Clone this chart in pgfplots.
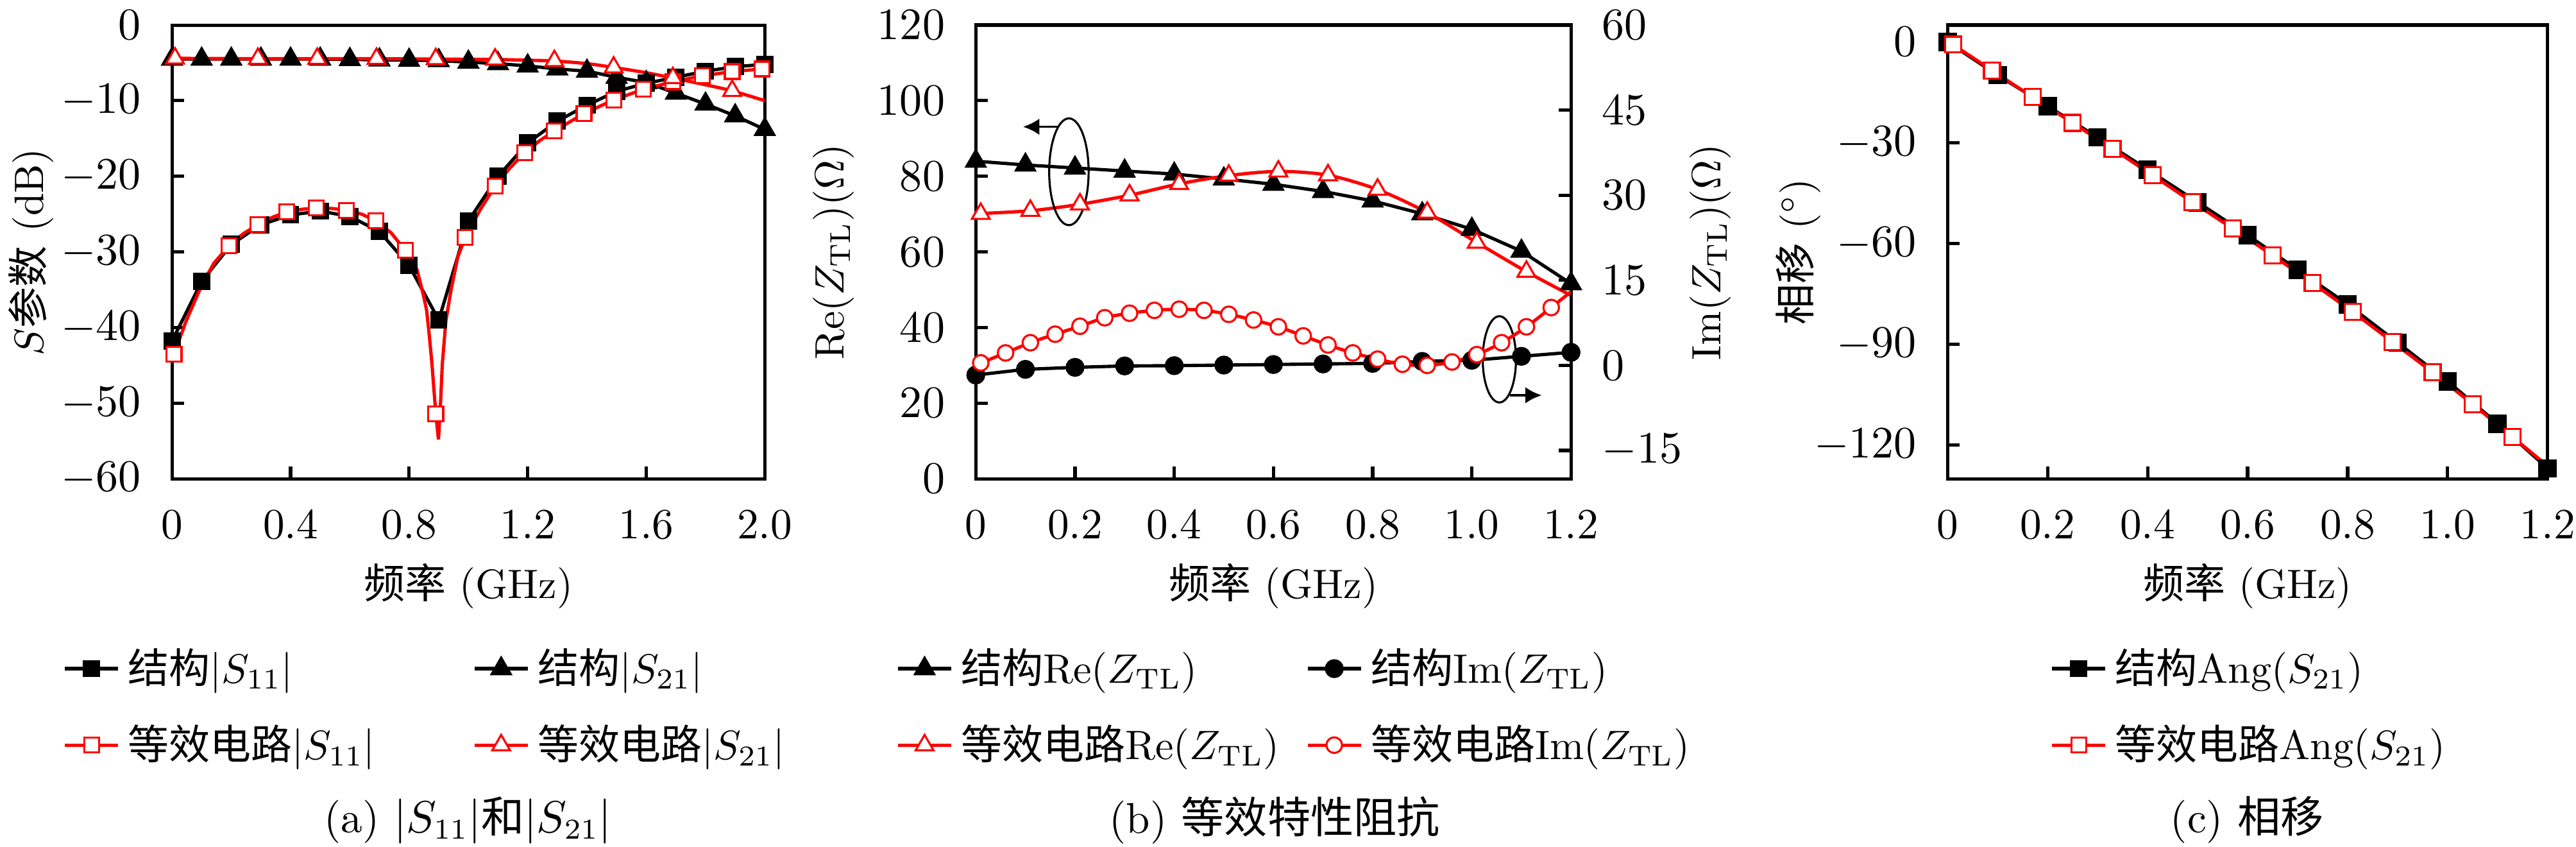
\documentclass[border=0pt]{standalone}
\usepackage{fontspec}
\usepackage{pgfplots}
\pgfplotsset{compat=1.18}
\usetikzlibrary{arrows.meta}
\newfontfamily\cjk{Noto Sans CJK SC}
\newcommand{\zh}[1]{{\cjk #1}}
\begin{document}
\begin{tikzpicture}
\path[use as bounding box] (0,0) rectangle (627.5pt,206.1pt);
\pgfplotsset{
  myaxis/.style={scale only axis, anchor=south west, height=110.5pt,
    tick align=inside, tick pos=left,
    axis line style={line width=0.8pt},
    every tick/.style={black, line width=0.8pt}, major tick length=3pt,
    tick label style={font=\fontsize{10.5}{12}\selectfont},
    xticklabel style={yshift=-4pt}, yticklabel style={xshift=-4pt},
    label style={font=\fontsize{10}{12}\selectfont},
    xlabel style={at={(axis description cs:0.5,-0.236)}, anchor=center},
    legend cell align=left, legend columns=2,
    legend style={draw=none, fill=none, inner xsep=0pt, inner ysep=0pt, row sep=4.7pt,
      nodes={inner sep=2pt, text width=82pt}, anchor=north west,
      font=\fontsize{10}{12}\selectfont},
    legend image code/.code={\draw[mark repeat=2,mark phase=2,##1] plot coordinates {(0pt,0pt) (6.5pt,0pt) (13pt,0pt)};},
  },
  blk/.style={black, line width=0.8pt},
  rd/.style={red, line width=0.8pt},
  bsq/.style={blk, mark=square*, mark size=1.7pt, mark options={solid, fill=black}},
  btr/.style={blk, mark=triangle*, mark size=2.4pt, mark options={solid, fill=black}},
  bci/.style={blk, mark=*, mark size=1.9pt, mark options={solid, fill=black}},
  rsq/.style={rd, mark=square*, mark size=1.8pt, mark options={solid, fill=white, draw=red, line width=0.5pt}},
  rtr/.style={rd, mark=triangle*, mark size=2.5pt, mark options={solid, fill=white, draw=red, line width=0.5pt}},
  rci/.style={rd, mark=*, mark size=1.9pt, mark options={solid, fill=white, draw=red, line width=0.5pt}},
}

% ---------------- (a) ----------------
\begin{axis}[myaxis, at={(41.9pt,89.5pt)}, width=144.4pt,
  xmin=0, xmax=2, ymin=-60, ymax=0,
  xtick={0,0.4,0.8,1.2,1.6,2.0}, xticklabels={0,0.4,0.8,1.2,1.6,2.0},
  ytick={-60,-50,-40,-30,-20,-10,0},
  xlabel={\zh{频率} (GHz)},
  ylabel={$S$\zh{参数} (dB)},
  ylabel style={at={(axis description cs:-0.238,0.5)}, anchor=center},
  legend style={at={(axis description cs:-0.185,-0.3535)}}]
\addlegendimage{bsq}\addlegendentry{\zh{结构}$|S_{11}|$}
\addlegendimage{btr}\addlegendentry{\zh{结构}$|S_{21}|$}
\addlegendimage{rsq}\addlegendentry{\zh{等效电路}$|S_{11}|$}
\addlegendimage{rtr}\addlegendentry{\zh{等效电路}$|S_{21}|$}
\addplot[bsq, forget plot] coordinates {(0,-41.8)(0.1,-33.9)(0.2,-29.0)(0.3,-26.4)(0.4,-25.1)(0.5,-24.6)(0.6,-25.3)(0.7,-27.3)(0.8,-31.8)(0.9,-39.0)(1.0,-25.9)(1.1,-20.0)(1.2,-15.6)(1.3,-12.7)(1.4,-10.6)(1.5,-8.75)(1.6,-7.7)(1.7,-6.9)(1.8,-6.1)(1.9,-5.5)(2.0,-5.2)};
\addplot[btr, forget plot] coordinates {(0,-4.5)(0.1,-4.5)(0.2,-4.5)(0.3,-4.5)(0.4,-4.5)(0.5,-4.5)(0.6,-4.55)(0.7,-4.6)(0.8,-4.65)(0.9,-4.7)(1.0,-4.9)(1.1,-5.1)(1.2,-5.4)(1.3,-5.8)(1.4,-6.1)(1.5,-6.9)(1.6,-7.6)(1.7,-9.0)(1.8,-10.45)(1.9,-12.0)(2.0,-13.8)};
\addplot[rd, no markers, forget plot] coordinates {(0,-44.2)(0.007,-43.5)(0.048,-39.1)(0.098,-34.6)(0.141,-31.5)(0.192,-29.2)(0.24,-27.6)(0.289,-26.4)(0.34,-25.4)(0.387,-24.7)(0.44,-24.35)(0.487,-24.2)(0.54,-24.25)(0.588,-24.5)(0.64,-25.0)(0.688,-25.9)(0.74,-27.5)(0.787,-29.8)(0.81,-31.0)(0.827,-32.4)(0.848,-35.7)(0.859,-37.7)(0.868,-41)(0.877,-44.8)(0.89,-51.4)(0.899,-54.8)(0.906,-50)(0.912,-44.8)(0.924,-39.1)(0.942,-34.9)(0.964,-30.7)(0.989,-28.1)(1.04,-24.4)(1.09,-21.3)(1.14,-18.9)(1.19,-16.9)(1.24,-15.3)(1.29,-14.0)(1.39,-11.7)(1.49,-9.9)(1.59,-8.5)(1.69,-7.5)(1.79,-6.7)(1.89,-6.15)(1.99,-5.8)(2.0,-5.75)};
\addplot[rsq, only marks, forget plot] coordinates {(0.007,-43.5)(0.192,-29.2)(0.289,-26.4)(0.387,-24.7)(0.487,-24.2)(0.588,-24.5)(0.688,-25.9)(0.787,-29.8)(0.89,-51.4)(0.989,-28.1)(1.09,-21.3)(1.19,-16.9)(1.29,-14.0)(1.39,-11.7)(1.49,-9.9)(1.59,-8.5)(1.69,-7.5)(1.79,-6.7)(1.89,-6.15)(1.99,-5.8)};
\addplot[rd, no markers, smooth, forget plot] coordinates {(0,-4.4)(0.29,-4.45)(0.49,-4.45)(0.69,-4.45)(0.89,-4.5)(1.09,-4.55)(1.2,-4.65)(1.29,-4.75)(1.4,-5.1)(1.49,-5.6)(1.6,-6.3)(1.69,-7.0)(1.8,-7.9)(1.89,-8.7)(2.0,-10.0)};
\addplot[rtr, only marks, forget plot] coordinates {(0.01,-4.4)(0.29,-4.45)(0.49,-4.45)(0.69,-4.45)(0.89,-4.5)(1.09,-4.55)(1.29,-4.75)(1.49,-5.6)(1.69,-7.0)(1.89,-8.7)};
\end{axis}

% ---------------- (b) ----------------
\begin{axis}[myaxis, at={(237.7pt,89.5pt)}, width=145pt,
  xmin=0, xmax=1.2, ymin=0, ymax=120,
  xtick={0,0.2,0.4,0.6,0.8,1.0,1.2}, xticklabels={0,0.2,0.4,0.6,0.8,1.0,1.2},
  ytick={0,20,40,60,80,100,120},
  xlabel={\zh{频率} (GHz)},
  ylabel={Re$(Z_{\mathrm{TL}})(\Omega)$},
  ylabel style={at={(axis description cs:-0.239,0.5)}, anchor=center},
  legend style={at={(axis description cs:-0.135,-0.3535)}}]
\addlegendimage{btr}\addlegendentry{\zh{结构}Re$(Z_{\mathrm{TL}})$}
\addlegendimage{bci}\addlegendentry{\zh{结构}Im$(Z_{\mathrm{TL}})$}
\addlegendimage{rtr}\addlegendentry{\zh{等效电路}Re$(Z_{\mathrm{TL}})$}
\addlegendimage{rci}\addlegendentry{\zh{等效电路}Im$(Z_{\mathrm{TL}})$}
\addplot[btr, forget plot] coordinates {(0,84.0)(0.1,83.0)(0.2,82.2)(0.3,81.4)(0.4,80.6)(0.5,79.3)(0.6,77.9)(0.7,76.0)(0.8,73.5)(0.9,70.1)(1.0,66.0)(1.1,60.2)(1.2,51.6)};
\addplot[rd, no markers, smooth, forget plot] coordinates {(0,70.1)(0.11,70.9)(0.21,72.6)(0.31,75.0)(0.41,78.0)(0.51,80.2)(0.61,81.3)(0.71,80.3)(0.81,76.5)(0.91,70.4)(1.01,62.5)(1.11,54.8)(1.2,48.5)};
\addplot[rtr, only marks, forget plot] coordinates {(0.01,70.1)(0.11,70.9)(0.21,72.6)(0.31,75.0)(0.41,78.0)(0.51,80.2)(0.61,81.3)(0.71,80.3)(0.81,76.5)(0.91,70.4)(1.01,62.5)(1.11,54.8)};
\draw[line width=0.5pt] (axis cs:0.1877,81.2) ellipse [x radius=4.8pt, y radius=13pt];
\draw[line width=0.6pt, -{Latex[length=4pt,width=4pt]}] (axis cs:0.166,93.1) -- (axis cs:0.095,93.1);
\draw[line width=0.5pt] (axis cs:1.0555,31.6) ellipse [x radius=4.05pt, y radius=10.5pt];
\draw[line width=0.6pt, -{Latex[length=4pt,width=4pt]}] (axis cs:1.077,22.1) -- (axis cs:1.141,22.1);
\end{axis}
\begin{axis}[scale only axis, anchor=south west, at={(237.7pt,89.5pt)}, width=145pt, height=110.5pt,
  xmin=0, xmax=1.2, ymin=-20, ymax=60,
  axis x line=none, axis y line*=right, axis line style={-, line width=0.8pt},
  tick align=inside, every tick/.style={black, line width=0.8pt}, major tick length=3pt,
  ytick={-15,0,15,30,45,60},
  tick label style={font=\fontsize{10.5}{12}\selectfont},
  yticklabel style={xshift=4pt},
  label style={font=\fontsize{10}{12}\selectfont},
  ylabel={Im$(Z_{\mathrm{TL}})(\Omega)$},
  ylabel style={at={(axis description cs:1.234,0.5)}, anchor=center}]
\addplot[bci] coordinates {(0,-1.7)(0.1,-0.7)(0.2,-0.35)(0.3,-0.1)(0.4,-0.05)(0.5,0.05)(0.6,0.15)(0.7,0.25)(0.8,0.35)(0.9,0.7)(1.0,0.9)(1.1,1.6)(1.2,2.3)};
\addplot[rd, no markers, smooth] coordinates {(0,0.4)(0.01,0.44)(0.06,2.2)(0.11,4.0)(0.16,5.5)(0.21,6.9)(0.26,8.4)(0.31,9.2)(0.36,9.7)(0.41,9.9)(0.46,9.7)(0.51,9.0)(0.56,8.0)(0.61,6.8)(0.66,5.2)(0.71,3.6)(0.76,2.2)(0.81,1.1)(0.86,0.2)(0.91,0.0)(0.96,0.6)(1.01,1.9)(1.06,4.0)(1.11,6.8)(1.16,10.2)(1.2,13.0)};
\addplot[rci, only marks] coordinates {(0.01,0.44)(0.06,2.2)(0.11,4.0)(0.16,5.5)(0.21,6.9)(0.26,8.4)(0.31,9.2)(0.36,9.7)(0.41,9.9)(0.46,9.7)(0.51,9.0)(0.56,8.0)(0.61,6.8)(0.66,5.2)(0.71,3.6)(0.76,2.2)(0.81,1.1)(0.86,0.2)(0.91,0.0)(0.96,0.6)(1.01,1.9)(1.06,4.0)(1.11,6.8)(1.16,10.2)};
\end{axis}

% ---------------- (c) ----------------
\begin{axis}[myaxis, at={(474.4pt,89.5pt)}, width=146.2pt,
  xmin=0, xmax=1.2, ymin=-130, ymax=5,
  xtick={0,0.2,0.4,0.6,0.8,1.0,1.2}, xticklabels={0,0.2,0.4,0.6,0.8,1.0,1.2},
  ytick={-120,-90,-60,-30,0},
  xlabel={\zh{频率} (GHz)},
  ylabel={\zh{相移} (${}^{\circ}$)},
  ylabel style={at={(axis description cs:-0.249,0.5)}, anchor=center},
  legend columns=1,
  legend style={at={(axis description cs:0.170,-0.3535)}}]
\addlegendimage{bsq}\addlegendentry{\zh{结构}Ang$(S_{21})$}
\addlegendimage{rsq}\addlegendentry{\zh{等效电路}Ang$(S_{21})$}
\addplot[bsq, mark size=1.85pt, forget plot] coordinates {(0,0)(0.1,-9.9)(0.2,-19.1)(0.3,-28.4)(0.4,-38.0)(0.5,-47.7)(0.6,-57.5)(0.7,-67.8)(0.8,-78.1)(0.9,-89.5)(1.0,-101.0)(1.1,-113.6)(1.2,-126.9)};
\addplot[rd, no markers, forget plot] coordinates {(0,-0.2)(0.011,-0.8)(0.089,-8.5)(0.17,-16.4)(0.25,-24.1)(0.33,-31.8)(0.41,-39.7)(0.49,-47.7)(0.57,-55.5)(0.65,-63.5)(0.73,-71.8)(0.81,-80.3)(0.89,-89.3)(0.97,-98.3)(1.05,-107.8)(1.13,-117.6)(1.2,-126.2)};
\addplot[rsq, mark size=1.95pt, only marks, forget plot] coordinates {(0.011,-0.8)(0.089,-8.5)(0.17,-16.4)(0.25,-24.1)(0.33,-31.8)(0.41,-39.7)(0.49,-47.7)(0.57,-55.5)(0.65,-63.5)(0.73,-71.8)(0.81,-80.3)(0.89,-89.3)(0.97,-98.3)(1.05,-107.8)(1.13,-117.6)};
\end{axis}

% captions
\node[font=\fontsize{10.5}{12}\selectfont] at (114pt,6.4pt) {(a) $|S_{11}|$\zh{和}$|S_{21}|$};
\node[font=\fontsize{10.5}{12}\selectfont] at (310.5pt,6.4pt) {(b) \zh{等效特性阻抗}};
\node[font=\fontsize{10.5}{12}\selectfont] at (547.4pt,6.4pt) {(c) \zh{相移}};
\end{tikzpicture}
\end{document}
